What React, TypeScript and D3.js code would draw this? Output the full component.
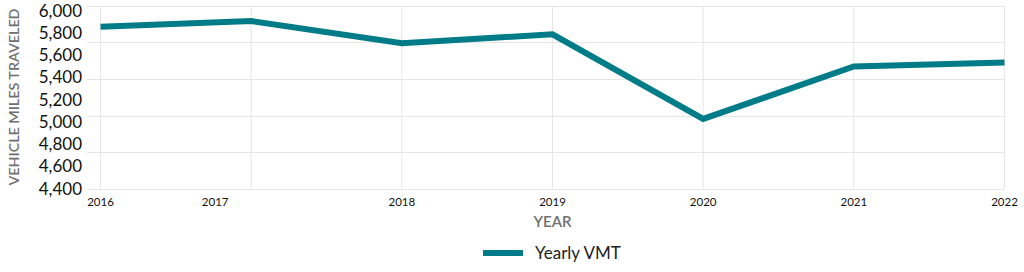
import React from "react";
import * as d3 from "d3";

const years = [2016, 2017, 2018, 2019, 2020, 2021, 2022];
const vmt = [5854, 5905, 5706, 5786, 5025, 5496, 5532];
const yTickLabels = [4400, 4600, 4800, 5000, 5200, 5400, 5600, 5800, 6000];
const seriesName = "Yearly VMT";
const yTitle = "VEHICLE MILES TRAVELED";
const xTitle = "YEAR";

const W = 1024;
const H = 272;
const TEAL = "#007c89";
const GRID = "#e6e6e6";
const FONT = "Lato, 'DejaVu Sans', sans-serif";

export default function App() {
  const x = d3.scaleLinear().domain([2016, 2022]).range([100.5, 1004.5]);
  const yMin = 4400;
  const yMax = 6040;
  const y = d3.scaleLinear().domain([yMin, yMax]).range([188.5, 6]);
  const gridVals = d3.range(6).map((i) => yMin + (i * (yMax - yMin)) / 5);

  const line = d3
    .line<number>()
    .x((_, i) => x(years[i]))
    .y((d) => y(d));

  const labelShift = (yr: number) => (yr === 2017 ? -36 : 0);

  return (
    <svg
      width={W}
      height={H}
      style={{ position: "absolute", left: 0, top: 0, background: "#fff" }}
      fontFamily={FONT}
    >
      {gridVals.map((v) => (
        <line key={"h" + v} x1={87} x2={x(2022)} y1={Math.round(y(v)) + 0.5} y2={Math.round(y(v)) + 0.5} stroke={GRID} strokeWidth={1} />
      ))}
      {years.map((yr) => (
        <line key={"v" + yr} x1={x(yr)} x2={x(yr)} y1={y(yMax)} y2={y(yMin)} stroke={GRID} strokeWidth={1} />
      ))}
      {yTickLabels.map((v) => (
        <text key={"yl" + v} x={82} y={y(v)} dy="0.36em" textAnchor="end" fontSize={17} fill="#111">
          {d3.format(",")(v)}
        </text>
      ))}
      {years.map((yr) => (
        <text key={"xl" + yr} x={x(yr) + labelShift(yr)} y={206} textAnchor="middle" fontSize={11.5} fill="#111">
          {yr}
        </text>
      ))}
      <text
        transform={`translate(19, ${97}) rotate(-90)`}
        textAnchor="middle"
        fontSize={14}
        fontWeight={600}
        fill="#707070"
        textLength={177}
        lengthAdjust="spacingAndGlyphs"
      >
        {yTitle}
      </text>
      <text x={x(2019)} y={227} textAnchor="middle" fontSize={15} fontWeight={600} fill="#707070">
        {xTitle}
      </text>
      <path d={line(vmt) || ""} fill="none" stroke={TEAL} strokeWidth={6} strokeLinejoin="miter" />
      <line x1={483} x2={523} y1={253} y2={253} stroke={TEAL} strokeWidth={6} />
      <text x={535} y={253} dy="0.36em" fontSize={17} fill="#222">
        {seriesName}
      </text>
    </svg>
  );
}
